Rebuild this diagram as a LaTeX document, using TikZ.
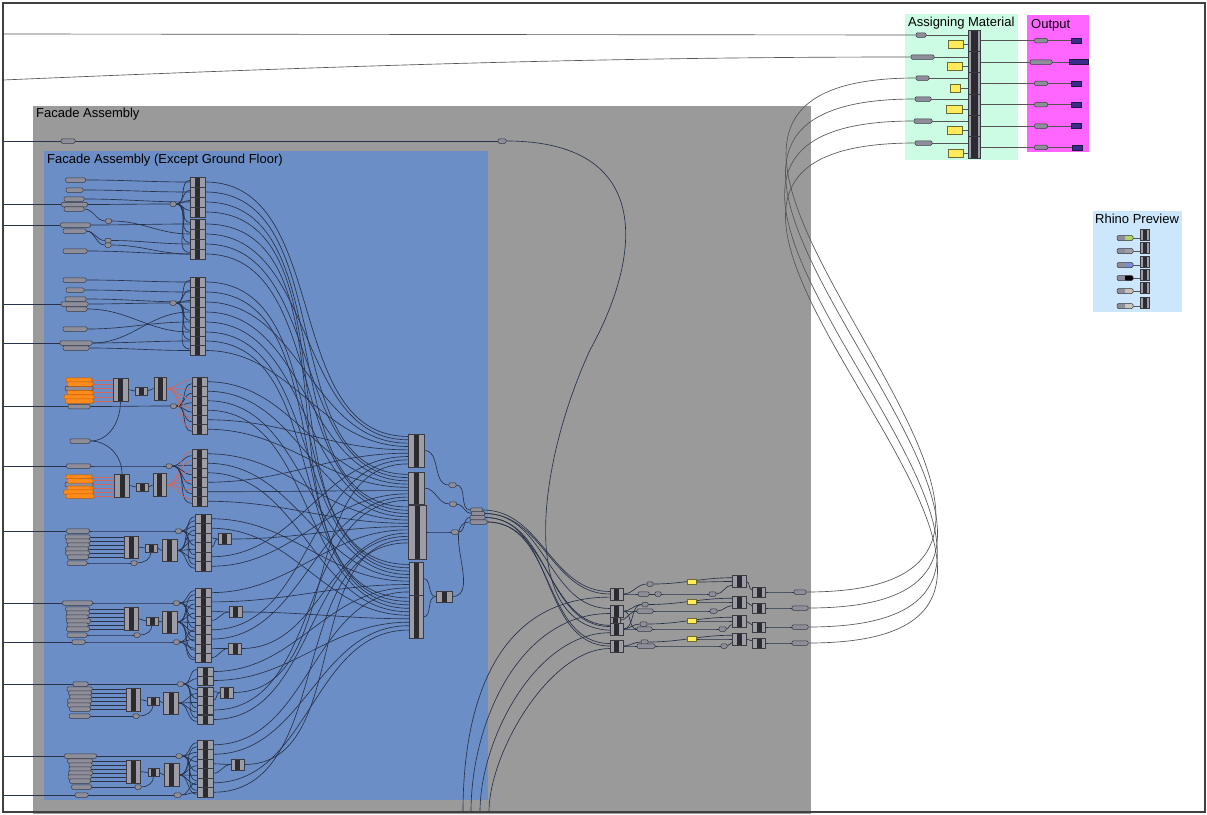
\documentclass[tikz,border=0pt]{standalone}
\usepackage{fontspec}
\setmainfont{Liberation Sans}
\usetikzlibrary{calc}
\definecolor{cgray}{HTML}{9A9A9A}
\definecolor{cblue}{HTML}{6B8EC6}
\definecolor{cgreen}{HTML}{CCFCE3}
\definecolor{cmag}{HTML}{FF66FF}
\definecolor{crhino}{HTML}{CCE7FB}
\definecolor{prmf}{HTML}{8E8E9A}
\definecolor{prmb}{HTML}{3A3A44}
\definecolor{blkf}{HTML}{9D9DA8}
\definecolor{blkb}{HTML}{3A3A40}
\definecolor{blkd}{HTML}{2B2B30}
\definecolor{wirec}{HTML}{28324A}
\definecolor{linec}{HTML}{555555}
\definecolor{orf}{HTML}{FF8C1A}
\definecolor{orb}{HTML}{B85A10}
\definecolor{redw}{HTML}{D2675A}
\definecolor{yelf}{HTML}{FFEB5A}
\definecolor{yelb}{HTML}{6B6B30}
\definecolor{dbf}{HTML}{3B2C8C}
\definecolor{dbb}{HTML}{1A1A40}
\definecolor{framec}{HTML}{404040}
\definecolor{rgreen}{HTML}{B4D36A}
\definecolor{rgray}{HTML}{A0A0A8}
\definecolor{rblue}{HTML}{7C8CD6}
\definecolor{rlight}{HTML}{C8C2B4}
\definecolor{rlightb}{HTML}{C8C8C0}
\pgfdeclarelayer{groups}
\pgfdeclarelayer{wires}
\pgfsetlayers{groups,wires,main}
\tikzset{
  stripehw/.store in=\stripehw, stripehw=2.5pt,
  prm/.style={draw=prmb, fill=prmf, rounded corners=1.2pt, inner sep=0pt, minimum height=4.5pt, minimum width=#1, line width=0.5pt},
  oprm/.style={prm=#1, draw=orb, fill=orf},
  rprm/.style={prm=16, minimum height=5pt, path picture={\fill[#1] (path picture bounding box.north) rectangle (path picture bounding box.south east);}},
  yel/.style={draw=yelb, fill=yelf, inner sep=0pt, minimum width=#1, minimum height=8pt, line width=0.5pt},
  yels/.style={yel=#1, minimum height=5pt},
  dbx/.style={draw=dbb, fill=dbf, inner sep=0pt, minimum width=#1, minimum height=5pt, line width=0.5pt},
  blk/.style 2 args={draw=blkb, fill=blkf, inner sep=0pt, minimum width=#1, minimum height=#2, line width=0.5pt,
    path picture={\fill[blkd] ([xshift=-\stripehw]path picture bounding box.north) rectangle ([xshift=\stripehw]path picture bounding box.south);}},
  wire/.style={draw=wirec, line width=0.65pt},
  rwire/.style={draw=redw, line width=0.65pt},
  gline/.style={draw=linec, line width=0.65pt},
  gtitle/.style={anchor=base west, inner sep=0pt, font=\fontsize{13}{15}\selectfont},
}
\newcommand\mkstack[6][]{\foreach \yy [count=\i] in {#6} {\node[blk={#4}{#5},#1] (#2-\i) at (#3,\yy) {};}}
\begin{document}
\begin{tikzpicture}[x=1pt,y=-1pt]
\useasboundingbox (0,0) rectangle (1207,814);
\begin{pgfonlayer}{groups}
\fill[white] (0,0) rectangle (1207,814);
\fill[cgray] (33,106) rectangle (811,814);
\fill[cblue] (44,151) rectangle (488,800);
\fill[cgreen] (905,14) rectangle (1018,160);
\fill[cmag] (1027,15) rectangle (1089,152);
\fill[crhino] (1093,211) rectangle (1182,312);
\end{pgfonlayer}
% titles
\node[gtitle] (tFA) at (36,117.7) {Facade Assembly};
\node[gtitle] (tFE) at (47,163) {Facade Assembly (Except Ground Floor)};
\node[gtitle] (tAM) at (908,26) {Assigning Material};
\node[gtitle] (tOut) at (1031,28) {Output};
\node[gtitle] (tRP) at (1095,223.5) {Rhino Preview};
% params
\foreach \n/\xx/\yy/\ww in {
 fa1/68/141/14, fa2/502/141/8,
 a1/75.5/180/20, a2/74.5/190/17, a3/74/199/20, a4/74.5/204.5/26, a5/74/209/20, a6/75.5/225/30, a7/74.5/231/23, a8/75/251/24,
 as1/108.5/221/6, as2/108/240.5/6, as3/108/245/6, as4/173/204/6,
 b1/74.5/280/23, b2/75/290/18, b3/75.5/299/21, b4/74.5/304/27, b5/76.5/309/21, b6/75/329/24, b7/76/343/32, b8/76/348/26, bs1/173/303/6,
 cp1/79/406.5/22, cp2/80/441/20, cs1/173.5/406/6, oc3/79/388.5/28, od3/79/484.6/28,
 dp1/78.5/466/24, ds1/169/466/6,
 ep1/78/531/23, ep2/77/563/20, es1/178.5/531/6, es2/134/563/6,
 ee1/77.5/537/25, ee2/78/541/24, ee3/78.5/545/22, ee4/77/549/23, ee5/77.5/553/24, ee6/78/557/21,
 fp1/77.5/603/30, fp2/77/635/20, fp3/78.5/642/13, fs1/176.5/603/6, fs2/137/635/6, fs3/176.5/642/6,
 ff1/77.5/609/24, ff2/78/613/23, ff3/77/617/22, ff4/78.5/621/24, ff5/77.5/625/21, ff6/78/629/23,
 gp1/80.5/684/15, gp2/79.5/716/21, gs1/180.5/684/6, gs2/136/716/6,
 gg1/79.5/689/25, gg2/80/693/23, gg3/80.5/697/22, gg4/79.5/701/24, gg5/79/705/23, gg6/80/709/21,
 hp1/80.5/756/32, hp2/81.5/787/20, hp3/81.5/795/13, hs1/179/756/6, hs2/138/787/6, hs3/177.5/795/7,
 hh1/80/761/25, hh2/80.5/765/23, hh3/80/769/22, hh4/80.5/773/24, hh5/79.5/777/23, hh6/80/781/21,
 mp1/452.5/485/7, mp2/453/504/7, mp3/455/532/7,
 sp1/476.5/510/12, sp2/478/513.5/13, sp3/477.5/517.5/15, sp4/478.5/522/17,
 sa1/650/584/6, wb1/643.5/594/11, x1/658/594/6, u1/712.5/594/7,
 sa2/645/604.5/6, wb2/645/611/16, u2/713.5/611/7,
 sa3/643.5/624/7, wb3/644.5/629/15, u3/722.5/629/7,
 sa4/644.5/642/7, wb4/646/646/18, u4/724/646/6,
 T1/800/592/12, T2/800/608/16, T3/800/627/16, T4/800/643/16,
 am1/921/35/10, am2/922.5/57/23, am3/922.5/78/13, am4/923/99/16, am5/923/121/18, am6/923.5/143/17,
 op1/1041/40.67/13, op2/1041/62/22, op3/1041/83.33/13, op4/1041/104.67/13, op5/1041/126/13, op6/1041/147.33/13}
 {\node[prm=\ww] (\n) at (\xx,\yy) {};}
% orange params
\foreach \n/\xx/\yy/\ww in {oc1/79/380/26, oc2/80/384/26, oc4/80/392.5/26, oc5/79/397/30, oc6/79.5/401/28,
 od1/79/477/26, od2/80/480.8/26, od4/80/488.4/26, od5/78.5/492.2/30, od6/80/496/28}
 {\node[oprm=\ww] (\n) at (\xx,\yy) {};}
% single blocks
\foreach \n/\xx/\yy/\ww/\hh in {
 CB1/120.5/389.5/15/23, CB2/141/391/12/8, CB3/160/388.5/12/23,
 DB1/122/485.5/15/23, DB2/142/487/12/8, DB3/159.5/485/13/23,
 EB1/131/547/14/22, EB2/151/548/12/8, EB3/169.5/550.5/15/22, Ebk/224.5/539/13/11,
 FB1/131/618.5/14/23, FB2/152/621/12/8, FB3/169.5/622/15/22, Fb1/235.5/612/13/11, Fb2/235/648.5/13/11,
 GB1/133/699.5/14/23, GB2/153/701/12/8, GB3/171/703/15/22, Gbk/226.5/692.5/13/11,
 HB1/133/771.5/14/23, HB2/153.5/772.5/11/8, HB3/171.5/775/15/23, Hbk/237.5/764.5/13/11,
 M1/416/450.5/16/33, M2/416/488/16/32, M3/417/532/18/54, M4/416/578.5/14/33, M5/416/617/14/43, mb/444/596.5/16/11,
 R1/616.5/594/13/12, R2/616.5/611/13/12, R3/616.5/629/13/12, Rx/615/620/10/6, R4/616.5/646/13/12,
 Q1/739/581.5/14/12, Q2/739/602/14/12, Q3/739/621/14/12, Q4/739/639/14/12,
 S1/759/592/13/10, S2/759/608/13/10, S3/759/627/13/10, S4/759/643/13/10}
 {\node[blk={\ww}{\hh}] (\n) at (\xx,\yy) {};}
% stacks
\mkstack{A}{197.5}{15}{10}{182,192,202,212,224,234,244,254}
\mkstack{B}{197.5}{15}{10}{282,292,302,312,322,332,341,350.5}
\mkstack{C}{199.5}{15}{9.5}{381.75,391.25,400.75,410.25,419.75,429.25}
\mkstack{D}{199.5}{15}{9.5}{453.75,463.25,472.75,482.25,491.75,501.25}
\mkstack{E}{203}{16}{9.5}{518.75,528.25,537.75,547.25,556.75,566.25}
\mkstack{F}{203}{16}{9.3}{592.6,601.9,611.2,620.5,629.8,639.1,648.4,657.7}
\mkstack{G}{205}{16}{9.3}{671.5,680.5,691.5,700.5,710,719.5}
\mkstack{H}{205}{16}{9.5}{744.75,754.25,763.75,773.25,782.75,792.25}
\mkstack[stripehw=3.5pt]{AMS}{974}{12}{21.33}{40.67,62,83.33,104.67,126,147.33}
% yellow
\foreach \i/\xx/\yy/\ww in {1/955.5/44/15, 2/954.5/66/15, 3/955/88/10, 4/954/109/16, 5/954.5/130/15, 6/955.5/153/15}
 {\node[yel=\ww] (yl\i) at (\xx,\yy) {};}
\foreach \i/\yy in {1/582, 2/602, 3/621, 4/639}
 {\node[yels=9] (yr\i) at (691.5,\yy) {};}
% dark blue outputs
\foreach \i/\xx/\yy/\ww in {1/1076/40.67/10, 2/1078.5/62/19, 3/1076/83.33/10, 4/1076.5/104.67/10, 5/1076.5/126/10, 6/1077/147.33/10}
 {\node[dbx=\ww] (db\i) at (\xx,\yy) {};}
% rhino preview
\foreach \i/\yy/\cc in {1/238/rgreen, 2/251/rgray, 3/265/rblue, 4/278/black, 5/291/rlight, 6/306/rlightb}
 {\node[rprm=\cc] (rp\i) at (1125,\yy) {};
  \node[blk={9}{11}, stripehw=2pt] (rb\i) at (1144.5,{\yy-3.5}) {};}

\begin{pgfonlayer}{wires}
\coordinate (L0) at (3,34);
\coordinate (L1) at (3,80);
\draw[gline] (L0) -- (am1.west);
\draw[gline] (L1) .. controls (400,63) and (650,57) .. (am2.west);
\foreach \yy/\tg in {141/fa1, 204.5/a4, 225/a6, 304/b4, 343/b7, 406.5/cp1, 466/dp1, 531/ep1, 603/fp1, 642/fp3, 684/gp1, 756/hp1, 795/hp3}
 {\coordinate (edge-\tg) at (3,\yy); \draw[wire] (edge-\tg) -- (\tg.west);}
\draw[wire] (fa1.east) -- (fa2.west);
\draw[wire] (fa2.east) .. controls (650,141) and (645,250) .. (590,350) .. controls (535,470) and (520,626) .. ($(R3.north west)!0.6!(R3.south west)$);
% generic links
\foreach \s/\t in {
 a1.east/A-1.west, a2.east/A-2.west, a3.east/A-3.west, a4.east/as4.west, a5.east/as1.west, as1.east/A-6.west, a6.east/A-5.west,
 a7.east/as2.west, a7.east/as3.west, as2.east/A-7.west, as3.east/A-8.west, a8.east/A-8.west,
 b1.east/B-1.west, b2.east/B-2.west, b3.east/B-3.west, b4.east/bs1.west, b5.east/B-6.west, b6.east/B-5.west, b7.east/B-7.west, b7.east/B-4.west, b8.east/B-8.west,
 cp1.east/cs1.west, dp1.east/ds1.west, CB1.east/CB2.west, CB2.east/CB3.west, DB1.east/DB2.west, DB2.east/DB3.west,
 ep1.east/es1.west, ep2.east/es2.west, E-3.east/Ebk.west, E-4.east/Ebk.west, EB1.east/EB2.west, EB2.east/EB3.west,
 fp1.east/fs1.west, fp2.east/fs2.west, fp3.east/fs3.west, F-3.east/Fb1.west, F-4.east/Fb1.west, F-7.east/Fb2.west, F-8.east/Fb2.west, FB1.east/FB2.west, FB2.east/FB3.west,
 gp1.east/gs1.west, gp2.east/gs2.west, G-3.east/Gbk.west, G-4.east/Gbk.west, GB1.east/GB2.west, GB2.east/GB3.west,
 hp1.east/hs1.west, hp2.east/hs2.west, hp3.east/hs3.west, H-3.east/Hbk.west, H-4.east/Hbk.west, HB1.east/HB2.west, HB2.east/HB3.west,
 M1.east/mp1.west, M2.east/mp2.west, M3.east/mp3.west, M4.east/mb.west, M5.east/mb.west,
 mp1.east/sp1.west, mp2.east/sp2.west, mp3.east/sp3.west, mb.east/sp4.west,
 R1.east/sa1.west, R1.east/wb1.west, R2.east/sa2.west, R2.east/wb2.west, R3.east/sa3.west, R3.east/wb3.west, R4.east/sa4.west, R4.east/wb4.west,
 R2.east/wb3.west, R3.east/sa2.west, Rx.east/wb2.west,
 wb1.east/x1.west, x1.east/u1.west, wb2.east/u2.west, wb3.east/u3.west, wb4.east/u4.west,
 S1.east/T1.west, S2.east/T2.west, S3.east/T3.west, S4.east/T4.west}
 {\draw[wire] (\s) to[out=0,in=180] (\t);}
% fans into stacks
\foreach \i in {1,...,8} {
 \draw[wire] (as4.east) to[out=0,in=180] ($(A-\i.north west)!0.35!(A-\i.south west)$);
 \draw[wire] (bs1.east) to[out=0,in=180] ($(B-\i.north west)!0.35!(B-\i.south west)$);
 \draw[wire] (FB3.east) to[out=0,in=180] ($(F-\i.north west)!0.7!(F-\i.south west)$);}
\foreach \i in {1,...,6} {
 \draw[wire] (cs1.east) to[out=0,in=180] ($(C-\i.north west)!0.7!(C-\i.south west)$);
 \draw[rwire] (CB3.east) to[out=0,in=180] ($(C-\i.north west)!0.3!(C-\i.south west)$);
 \draw[wire] (ds1.east) to[out=0,in=180] ($(D-\i.north west)!0.7!(D-\i.south west)$);
 \draw[rwire] (DB3.east) to[out=0,in=180] ($(D-\i.north west)!0.3!(D-\i.south west)$);
 \draw[wire] (es1.east) to[out=0,in=180] ($(E-\i.north west)!0.3!(E-\i.south west)$);
 \draw[wire] (EB3.east) to[out=0,in=180] ($(E-\i.north west)!0.7!(E-\i.south west)$);
 \draw[wire] (fs1.east) to[out=0,in=180] ($(F-\i.north west)!0.3!(F-\i.south west)$);
 \draw[wire] (gs1.east) to[out=0,in=180] ($(G-\i.north west)!0.3!(G-\i.south west)$);
 \draw[wire] (hs1.east) to[out=0,in=180] ($(H-\i.north west)!0.3!(H-\i.south west)$);
 \draw[wire] (HB3.east) to[out=0,in=180] ($(H-\i.north west)!0.7!(H-\i.south west)$);}
\foreach \i in {3,...,6} {\draw[wire] (GB3.east) to[out=0,in=180] ($(G-\i.north west)!0.7!(G-\i.south west)$);}
\foreach \i in {5,...,8} {\draw[wire] (fs3.east) to[out=0,in=180] ($(F-\i.north west)!0.5!(F-\i.south west)$);}
\foreach \i in {5,6} {\draw[wire] (hs3.east) to[out=0,in=180] ($(H-\i.north west)!0.5!(H-\i.south west)$);}
% straight param rows into blocks
\foreach \p in {oc1,oc2,oc3,oc4,oc5,oc6} {\draw[rwire] (\p.east) -- (\p.east -| CB1.west);}
\foreach \p in {od1,od2,od3,od4,od5,od6} {\draw[rwire] (\p.east) -- (\p.east -| DB1.west);}
\foreach \p in {ee1,ee2,ee3,ee4,ee5,ee6} {\draw[wire] (\p.east) -- (\p.east -| EB1.west);}
\foreach \p in {ff1,ff2,ff3,ff4,ff5,ff6} {\draw[wire] (\p.east) -- (\p.east -| FB1.west);}
\foreach \p in {gg1,gg2,gg3,gg4,gg5,gg6} {\draw[wire] (\p.east) -- (\p.east -| GB1.west);}
\foreach \p in {hh1,hh2,hh3,hh4,hh5,hh6} {\draw[wire] (\p.east) -- (\p.east -| HB1.west);}
\draw[wire] (cp2.east) to[out=0,in=-90] (CB1.south);
\draw[wire] (cp2.east) to[out=0,in=90] (DB1.north);
\draw[wire] (es2.east) to[out=0,in=-90] (EB2.south);
\draw[wire] (fs2.east) to[out=0,in=-90] (FB2.south);
\draw[wire] (gs2.east) to[out=0,in=-90] (GB2.south);
\draw[wire] (hs2.east) to[out=0,in=-90] (HB2.south);
% long wires to merge blocks
\foreach \s/\m/\f in {
 A-1/M1/0.08, A-2/M2/0.08, A-3/M3/0.04, A-4/M4/0.08, A-5/M5/0.06, A-6/M1/0.18, A-7/M2/0.18, A-8/M3/0.1,
 B-1/M4/0.18, B-2/M5/0.14, B-3/M1/0.28, B-4/M2/0.28, B-5/M3/0.16, B-6/M4/0.28, B-7/M5/0.22, B-8/M1/0.38,
 C-1/M2/0.38, C-2/M3/0.22, C-3/M4/0.38, C-4/M5/0.3, C-5/M1/0.48, C-6/M2/0.48,
 D-1/M3/0.28, D-2/M4/0.48, D-3/M5/0.38, D-4/M1/0.58, D-5/M2/0.58, D-6/M3/0.34,
 E-1/M4/0.58, E-2/M5/0.46, Ebk/M3/0.4, E-5/M1/0.68, E-6/M2/0.68,
 F-1/M3/0.46, F-2/M4/0.68, Fb1/M5/0.54, F-5/M1/0.78, F-6/M2/0.78, Fb2/M3/0.52,
 G-1/M4/0.78, G-2/M5/0.62, Gbk/M1/0.9, G-5/M2/0.88, G-6/M3/0.58,
 H-1/M4/0.9, H-2/M5/0.7, Hbk/M3/0.64, H-5/M5/0.8, H-6/M3/0.7}
 {\draw[wire] (\s.east) to[out=0,in=180] ($(\m.north west)!\f!(\m.south west)$);}
% merge outputs to right blocks
\foreach \s/\r/\f in {sp1/R1/0.3, sp2/R2/0.3, sp3/R3/0.3, sp4/R4/0.3, sp2/R1/0.5, sp3/R4/0.5, sp4/R3/0.2}
 {\draw[wire] (\s.east) to[out=0,in=180] ($(\r.north west)!\f!(\r.south west)$);}
\foreach \i/\xx/\r/\f/\lo in {1/463/R1/0.75/1.1, 2/471/R2/0.7/0.95, 3/480/R3/0.8/0.85, 4/489/R4/0.7/0.75}
 {\coordinate (bt\i) at (\xx,812);
  \draw[wire] (bt\i) to[out=90,in=180,looseness=\lo] ($(\r.north west)!\f!(\r.south west)$);}
% right cluster rows
\foreach \k in {1,2,3,4} {
 \draw[wire] (sa\k.east) to[out=0,in=180] ($(Q\k.north west)!0.2!(Q\k.south west)$);
 \draw[wire] (yr\k.east) to[out=0,in=180] ($(Q\k.north west)!0.5!(Q\k.south west)$);
 \draw[wire] (u\k.east) to[out=0,in=180] ($(Q\k.north west)!0.8!(Q\k.south west)$);
 \draw[wire] (Q\k.east) to[out=0,in=180] ($(S\k.north west)!0.3!(S\k.south west)$);}
% S-curves to Assigning Material
\foreach \t/\a in {T1/am3, T2/am4, T3/am5, T4/am6}
 {\draw[gline] (\t.east) .. controls ($(\t.east)+(400,0)$) and ($(\a.west)+(-400,0)$) .. (\a.west);}
% Assigning material and output
\foreach \k in {1,...,6} {
 \draw[gline] (am\k.east) -- (am\k.east -| AMS-\k.west);
 \draw[gline] (yl\k.east) -- (yl\k.east -| AMS-\k.west);
 \draw[gline] (AMS-\k.east) -- (op\k.west);
 \draw[gline] (op\k.east) -- (db\k.west);
 \draw[gline] (rp\k.east) -- (rp\k.east -| rb\k.west);}
\end{pgfonlayer}
\draw[framec, line width=1.2pt] (3,3) rectangle (1205,812);
\end{tikzpicture}
\end{document}
